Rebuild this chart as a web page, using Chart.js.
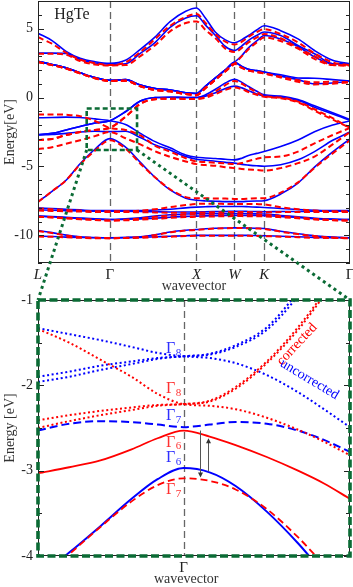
<!DOCTYPE html>
<html>
<head>
<meta charset="utf-8">
<script src="https://cdn.jsdelivr.net/npm/chart.js@4.4.1/dist/chart.umd.min.js"></script>
<style>
  html, body { margin: 0; padding: 0; background: #fff; }
  #wrap { position: relative; width: 353px; height: 587px; }
  canvas { position: absolute; left: 0; }
</style>
</head>
<body>
<div id="wrap">
  <canvas id="top" width="353" height="295" style="top:0"></canvas>
  <canvas id="zoom" width="353" height="302" style="top:285px"></canvas>
  <canvas id="links" width="353" height="587" style="top:0;pointer-events:none"></canvas>
</div>
<script>
// k path L-G-X-W-K-G (units of 2pi/a)
const kPath = [0, 0.17, 0.34, 0.51, 0.69, 0.87, 1.06, 1.24, 1.42, 1.60, 1.79, 1.92, 2.03, 2.15, 2.27, 2.38, 2.47, 2.55, 2.65, 2.74, 2.94, 3.15, 3.35, 3.57, 3.78];
const kTicks = [0, 0.87, 1.92, 2.38, 2.74, 3.78];
const kLabels = ['L', 'Γ', 'X', 'W', 'K', 'Γ'];

// uncorrected bands (blue, solid)
const blueU1 = [4.66, 4.13, 3.35, 2.85, 2.6, 2.48, 2.7, 3.5, 4.4, 5.5, 6.25, 6.49, 5.75, 4.73, 4.18, 3.96, 4.2, 4.5, 4.9, 5.21, 4.85, 4.25, 3.41, 2.7, 2.45];
const blueU2 = [3.22, 3.22, 3.2, 2.75, 2.5, 2.42, 2.45, 3.2, 4.0, 5.09, 5.77, 5.93, 5.25, 4.5, 3.7, 3.41, 3.75, 4.15, 4.5, 4.75, 4.49, 3.77, 3.17, 2.45, 2.45];
const blueU3 = [2.62, 2.4, 2.15, 1.8, 1.45, 1.25, 1.3, 0.9, 0.65, 0.55, 0.35, 0.29, 0.83, 1.42, 2.0, 2.55, 3.05, 3.6, 4.1, 4.5, 4.25, 3.7, 2.95, 2.45, 2.45];
const blueC1 = [2.62, 2.4, 2.15, 1.8, 1.45, 1.25, 1.3, 0.9, 0.65, 0.55, 0.35, 0.29, 0.83, 1.42, 2.0, 2.55, 2.25, 2.05, 1.95, 1.85, 1.65, 1.42, 1.4, 1.3, 1.2];
const blueC2 = [2.62, 2.4, 2.15, 1.8, 1.45, 1.25, 1.3, 0.9, 0.65, 0.55, 0.35, 0.29, 0.83, 1.42, 2.0, 2.55, 2.25, 2.05, 1.95, 1.85, 1.55, 1.3, 1.0, 1.05, 1.2];
const blueCA = [-2.7, -2.6, -2.35, -2.1, -1.85, -1.68, -1.03, -0.25, 0.0, 0.02, 0.0, 0.0, 0.2, 0.6, 1.05, 1.33, 1.1, 0.8, 0.45, 0.2, 0.1, -0.15, -0.6, -1.1, -1.6];
const blueCB = [-2.7, -2.6, -2.35, -2.1, -1.85, -1.68, -1.03, -0.25, 0.0, 0.02, 0.0, 0.0, 0.1, 0.35, 0.65, 0.83, 0.7, 0.5, 0.25, 0.12, 0.05, -0.2, -0.7, -1.2, -1.65];
const blueHH = [-1.47, -1.45, -1.42, -1.45, -1.55, -1.68, -1.95, -2.6, -3.2, -3.65, -4.16, -4.33, -4.38, -4.42, -4.48, -4.52, -4.4, -4.2, -4.05, -3.92, -3.56, -3.08, -2.48, -2.0, -1.7];
const blueSO = [-2.7, -2.68, -2.6, -2.5, -2.45, -2.47, -2.45, -2.9, -3.44, -3.8, -4.28, -4.47, -4.55, -4.62, -4.7, -4.76, -4.85, -4.9, -4.95, -4.98, -4.88, -4.52, -3.92, -3.1, -2.5];
const blueS = [-7.57, -6.8, -6.0, -4.8, -3.75, -2.98, -3.6, -4.7, -5.8, -6.7, -7.3, -7.45, -7.5, -7.52, -7.55, -7.55, -7.55, -7.52, -7.5, -7.48, -7.0, -6.2, -5.05, -3.95, -3.0];
const blueD1 = [-8.0, -8.05, -8.1, -8.15, -8.2, -8.2, -8.2, -8.2, -8.15, -8.1, -8.0, -7.95, -7.92, -7.9, -7.9, -7.9, -7.9, -7.92, -7.95, -7.97, -8.05, -8.12, -8.17, -8.2, -8.2];
const blueD2 = [-8.15, -8.18, -8.2, -8.22, -8.25, -8.25, -8.25, -8.27, -8.28, -8.3, -8.3, -8.3, -8.28, -8.27, -8.26, -8.25, -8.25, -8.26, -8.27, -8.28, -8.27, -8.26, -8.25, -8.25, -8.25];
const blueD3 = [-8.6, -8.65, -8.72, -8.78, -8.82, -8.85, -8.83, -8.8, -8.75, -8.68, -8.62, -8.6, -8.58, -8.57, -8.56, -8.55, -8.55, -8.56, -8.56, -8.57, -8.62, -8.7, -8.78, -8.83, -8.85];
const blueD4 = [-8.6, -8.63, -8.68, -8.74, -8.8, -8.85, -8.8, -8.72, -8.6, -8.5, -8.45, -8.43, -8.42, -8.42, -8.42, -8.42, -8.42, -8.43, -8.44, -8.45, -8.55, -8.65, -8.75, -8.82, -8.85];
const blueS1 = [-9.65, -9.8, -9.98, -10.1, -10.15, -10.17, -10.15, -10.1, -9.95, -9.75, -9.62, -9.57, -9.52, -9.48, -9.46, -9.45, -9.45, -9.46, -9.48, -9.5, -9.7, -9.88, -10.02, -10.12, -10.17];
const blueS2 = [-10.05, -10.08, -10.12, -10.15, -10.17, -10.17, -10.16, -10.14, -10.1, -10.06, -10.02, -10.0, -10.0, -10.0, -10.0, -10.0, -10.0, -10.0, -10.01, -10.02, -10.06, -10.1, -10.14, -10.16, -10.17];

// corrected bands (red, dashed)
const redU1 = [4.37, 3.9, 3.25, 2.75, 2.5, 2.35, 2.55, 3.3, 4.25, 5.2, 5.85, 6.05, 5.4, 4.6, 4.05, 3.85, 4.05, 4.4, 4.75, 4.95, 4.6, 4.0, 3.2, 2.55, 2.35];
const redU2 = [3.17, 3.17, 3.1, 2.65, 2.4, 2.33, 2.35, 3.0, 3.8, 4.8, 5.4, 5.52, 4.9, 4.3, 3.55, 3.3, 3.6, 4.0, 4.35, 4.6, 4.3, 3.6, 3.0, 2.35, 2.33];
const redU3 = [2.57, 2.35, 2.1, 1.75, 1.4, 1.2, 1.22, 0.82, 0.55, 0.45, 0.25, 0.17, 0.7, 1.3, 1.9, 2.45, 3.0, 3.5, 4.0, 4.35, 4.1, 3.55, 2.8, 2.35, 2.33];
const redC1 = [2.57, 2.35, 2.1, 1.75, 1.4, 1.2, 1.22, 0.82, 0.55, 0.45, 0.25, 0.17, 0.7, 1.3, 1.9, 2.45, 2.15, 1.95, 1.85, 1.75, 1.5, 1.25, 1.1, 1.15, 1.1];
const redC2 = [2.57, 2.35, 2.1, 1.75, 1.4, 1.2, 1.22, 0.82, 0.55, 0.45, 0.25, 0.17, 0.7, 1.3, 1.9, 2.45, 2.15, 1.95, 1.85, 1.75, 1.45, 1.15, 0.95, 1.0, 1.1];
const redCA = [-3.08, -3.0, -2.72, -2.5, -2.35, -2.2, -1.4, -0.45, -0.12, -0.08, -0.1, -0.1, 0.05, 0.45, 0.9, 1.2, 1.0, 0.7, 0.4, 0.1, 0.0, -0.3, -0.85, -1.5, -2.2];
const redCB = [-3.08, -3.0, -2.72, -2.5, -2.35, -2.2, -1.4, -0.45, -0.12, -0.08, -0.1, -0.1, -0.02, 0.25, 0.55, 0.72, 0.6, 0.4, 0.2, 0.05, -0.05, -0.35, -0.95, -1.6, -2.2];
const redHH = [-1.23, -1.23, -1.25, -1.35, -1.7, -2.2, -2.35, -2.75, -3.5, -3.92, -4.4, -4.64, -4.68, -4.73, -4.78, -4.83, -4.75, -4.6, -4.45, -4.33, -4.28, -3.92, -3.32, -2.72, -2.2];
const redSO = [-3.75, -3.6, -3.35, -3.1, -2.8, -2.5, -2.95, -3.4, -3.9, -4.3, -4.64, -4.83, -4.9, -4.95, -5.05, -5.12, -5.18, -5.22, -5.26, -5.3, -5.12, -4.76, -4.28, -3.4, -2.5];
const redS = [-7.57, -6.8, -6.0, -4.85, -3.85, -3.1, -3.7, -4.8, -5.8, -6.65, -7.22, -7.3, -7.3, -7.32, -7.33, -7.35, -7.35, -7.33, -7.3, -7.3, -6.9, -6.15, -5.1, -4.05, -3.1];
const redD1 = [-8.05, -8.1, -8.15, -8.2, -8.25, -8.25, -8.25, -8.2, -8.1, -7.95, -7.8, -7.72, -7.7, -7.7, -7.72, -7.73, -7.72, -7.72, -7.73, -7.75, -7.95, -8.1, -8.2, -8.25, -8.25];
const redD2 = [-8.2, -8.22, -8.25, -8.27, -8.3, -8.3, -8.3, -8.32, -8.33, -8.35, -8.35, -8.35, -8.33, -8.32, -8.31, -8.3, -8.3, -8.31, -8.32, -8.32, -8.31, -8.3, -8.3, -8.3, -8.3];
const redD3 = [-8.65, -8.7, -8.77, -8.83, -8.88, -8.92, -8.9, -8.86, -8.8, -8.73, -8.67, -8.65, -8.63, -8.62, -8.61, -8.6, -8.6, -8.61, -8.61, -8.62, -8.68, -8.76, -8.84, -8.9, -8.92];
const redD4 = [-8.65, -8.68, -8.73, -8.8, -8.86, -8.92, -8.86, -8.77, -8.65, -8.55, -8.5, -8.48, -8.47, -8.47, -8.47, -8.47, -8.47, -8.48, -8.49, -8.5, -8.6, -8.7, -8.8, -8.88, -8.92];
const redS1 = [-9.68, -9.83, -10.0, -10.12, -10.17, -10.2, -10.18, -10.12, -9.97, -9.78, -9.65, -9.6, -9.55, -9.5, -9.48, -9.47, -9.47, -9.48, -9.5, -9.53, -9.73, -9.9, -10.05, -10.15, -10.2];
const redS2 = [-10.08, -10.1, -10.14, -10.17, -10.2, -10.2, -10.19, -10.17, -10.13, -10.09, -10.05, -10.03, -10.03, -10.03, -10.03, -10.03, -10.03, -10.03, -10.04, -10.05, -10.09, -10.13, -10.17, -10.19, -10.2];

// zoom around Gamma (k measured from Gamma, negative = towards L)
const dk = [-0.28, -0.22, -0.16, -0.10, -0.05, 0, 0.05, 0.10, 0.16, 0.22, 0.27, 0.32];
const zBlueHH = [-1.33, -1.4, -1.47, -1.55, -1.62, -1.66, -1.68, -1.74, -1.88, -2.08, -2.28, -2.49];
const zBlueLH1 = [-1.90, -1.84, -1.77, -1.72, -1.68, -1.66, -1.63, -1.53, -1.32, -0.9, -0.45, -0.05];
const zBlueLH2 = [-1.96, -1.9, -1.82, -1.75, -1.69, -1.66, -1.64, -1.55, -1.35, -0.95, -0.5, -0.1];
const zBlueSO = [-2.53, -2.45, -2.42, -2.43, -2.46, -2.49, -2.46, -2.43, -2.45, -2.53, -2.64, -2.78];
const zBlueS6 = [-4.25, -3.96, -3.65, -3.33, -3.1, -2.97, -3.02, -3.18, -3.48, -3.85, -4.2, -4.5];
const zRedHH = [-1.34, -1.5, -1.7, -1.9, -2.1, -2.22, -2.24, -2.28, -2.38, -2.52, -2.66, -2.82];
const zRedLH1 = [-2.41, -2.35, -2.3, -2.26, -2.23, -2.22, -2.18, -2.02, -1.72, -1.32, -0.92, -0.5];
const zRedLH2 = [-2.5, -2.42, -2.35, -2.29, -2.24, -2.22, -2.19, -2.04, -1.74, -1.35, -0.95, -0.55];
const zRedS6 = [-3.03, -2.96, -2.88, -2.75, -2.62, -2.53, -2.6, -2.7, -2.84, -3.0, -3.15, -3.33];
const zRedS7 = [-4.3, -3.98, -3.66, -3.36, -3.17, -3.09, -3.12, -3.22, -3.45, -3.78, -4.1, -4.4];

// annotations
const zoomBox = [0.59, 1.20, -3.8, -0.8];            // k0, k1, e0, e1 in the top panel
const gammaTags = [['8', 'b', -1.57], ['8', 'r', -2.04], ['7', 'b', -2.36], ['6', 'r', -2.67], ['6', 'b', -2.85], ['7', 'r', -3.23]];
const gapArrows = [[0.031, -2.53, -3.08], [0.046, -3.01, -2.62]];

const serif = '"Liberation Serif", "DejaVu Serif", serif';
const BLUE = '#0000ff', RED = '#ff0000', GREEN = '#0b6b35', INK = '#222';
Chart.defaults.font.family = serif;

function bandSet(xs, ys, color, width, dash) {
  return {
    data: ys.map((e, i) => ({x: xs[i], y: e})),
    borderColor: color, borderWidth: width, borderDash: dash,
    pointRadius: 0, fill: false, cubicInterpolationMode: 'monotone'
  };
}

function seg(ctx, x0, y0, x1, y1) {
  ctx.beginPath(); ctx.moveTo(x0, y0); ctx.lineTo(x1, y1); ctx.stroke();
}

function frameAndTicks(chart, isMajor) {
  const {ctx, chartArea: a, scales: {y}} = chart;
  ctx.save();
  ctx.strokeStyle = INK; ctx.lineWidth = 1;
  y.ticks.forEach(t => {
    const py = Math.round(y.getPixelForValue(t.value)) + 0.5;
    const len = isMajor(t.value) ? 6 : 4;
    seg(ctx, a.left, py, a.left + len, py);
    seg(ctx, a.right, py, a.right - len, py);
  });
  ctx.strokeRect(Math.round(a.left) + 0.5, Math.round(a.top) + 0.5, Math.round(a.width) - 1, Math.round(a.height) - 1);
  ctx.restore();
}

function symLines(chart, values) {
  const {ctx, chartArea: a, scales: {x}} = chart;
  ctx.save();
  ctx.strokeStyle = '#666'; ctx.lineWidth = 1.3; ctx.setLineDash([7, 4]);
  values.forEach(v => {
    const px = Math.round(x.getPixelForValue(v)) + 0.5;
    seg(ctx, px, a.top, px, a.bottom);
  });
  ctx.restore();
}

const topDecor = {
  id: 'topDecor',
  beforeDatasetsDraw(chart) { symLines(chart, kTicks.slice(1, -1)); },
  afterDatasetsDraw(chart) {
    const {ctx, scales: {x, y}} = chart;
    frameAndTicks(chart, v => v % 5 === 0);
    ctx.save();
    ctx.fillStyle = INK; ctx.font = '16px ' + serif;
    ctx.textAlign = 'center'; ctx.textBaseline = 'middle';
    ctx.fillText('HgTe', x.getPixelForValue(0.41), y.getPixelForValue(5.97));
    const x0 = x.getPixelForValue(zoomBox[0]), x1 = x.getPixelForValue(zoomBox[1]);
    const y0 = y.getPixelForValue(zoomBox[3]), y1 = y.getPixelForValue(zoomBox[2]);
    ctx.strokeStyle = GREEN; ctx.lineWidth = 2.6; ctx.setLineDash([5, 3]);
    ctx.strokeRect(x0, y0, x1 - x0, y1 - y0);
    ctx.restore();
  }
};

const zoomDecor = {
  id: 'zoomDecor',
  beforeDatasetsDraw(chart) { symLines(chart, [0]); },
  afterDatasetsDraw(chart) {
    const {ctx, chartArea: a, scales: {x, y}} = chart;
    frameAndTicks(chart, v => Number.isInteger(v));
    ctx.save();
    // Gamma point labels
    gammaTags.forEach(([sub, c, e]) => {
      const px = x.getPixelForValue(-0.016), py = y.getPixelForValue(e);
      ctx.fillStyle = c === 'b' ? '#3030ff' : '#ff3030';
      ctx.font = '16px ' + serif; ctx.textAlign = 'right'; ctx.textBaseline = 'middle';
      ctx.fillText('Γ', px, py);
      ctx.font = '11px ' + serif; ctx.textAlign = 'left';
      ctx.fillText(sub, px + 0.5, py + 4);
    });
    // rotated curve labels
    const rotLabel = (txt, k, e, deg, color) => {
      ctx.save();
      ctx.translate(x.getPixelForValue(k), y.getPixelForValue(e));
      ctx.rotate(deg * Math.PI / 180);
      ctx.fillStyle = color; ctx.font = '14px ' + serif;
      ctx.textAlign = 'center'; ctx.textBaseline = 'middle';
      ctx.fillText(txt, 0, 0);
      ctx.restore();
    };
    rotLabel('corrected', 0.218, -1.52, -47, RED);
    rotLabel('uncorrected', 0.242, -1.93, 31, BLUE);
    // gap arrows
    ctx.strokeStyle = '#555'; ctx.fillStyle = '#333'; ctx.lineWidth = 1;
    gapArrows.forEach(([k, e0, e1]) => {
      const px = Math.round(x.getPixelForValue(k)) + 0.5;
      const p0 = y.getPixelForValue(e0), p1 = y.getPixelForValue(e1);
      const dir = Math.sign(p1 - p0);
      seg(ctx, px, p0, px, p1 - dir * 4);
      ctx.beginPath();
      ctx.moveTo(px, p1); ctx.lineTo(px - 2.5, p1 - dir * 5); ctx.lineTo(px + 2.5, p1 - dir * 5);
      ctx.closePath(); ctx.fill();
    });
    // green dashed frame
    ctx.strokeStyle = GREEN; ctx.lineWidth = 3.6; ctx.setLineDash([8, 3.5]);
    ctx.strokeRect(a.left, a.top, a.width, a.height);
    // axis title, centred under Gamma
    ctx.setLineDash([]);
    ctx.fillStyle = '#333'; ctx.font = '14px ' + serif;
    ctx.textAlign = 'center'; ctx.textBaseline = 'middle';
    ctx.fillText('wavevector', x.getPixelForValue(0.005), chart.height - 8);
    ctx.restore();
  }
};

function yScale(min, max, step, title, isMajor) {
  return {
    min: min, max: max,
    afterFit: s => { s.width = 38; s.paddingTop = 0; s.paddingBottom = 0; },
    grid: {display: false, drawTicks: false}, border: {display: false},
    ticks: {stepSize: step, autoSkip: false, padding: 5, color: INK, font: {size: 14},
            callback: v => isMajor(v) ? String(v) : ''},
    title: {display: true, text: title, color: '#333', font: {size: 14}, padding: {top: 2, bottom: 0}}
  };
}

function xScale(min, max, ticks, labels, height, showTitle) {
  return {
    type: 'linear', min: min, max: max,
    afterBuildTicks: s => { s.ticks = ticks.map(v => ({value: v})); },
    afterFit: s => { s.height = height; s.paddingLeft = 0; s.paddingRight = 0; },
    grid: {display: false, drawTicks: false}, border: {display: false},
    ticks: {autoSkip: false, maxRotation: 0, padding: 3, color: INK,
            callback: (v, i) => labels[i],
            font: c => ({size: 15, style: labels[c.index] === 'Γ' ? 'normal' : 'italic'})},
    title: {display: showTitle, text: 'wavevector', color: '#333', font: {size: 14}, padding: {top: 0, bottom: 0}}
  };
}

const blueBands = [blueU1, blueU2, blueU3, blueC1, blueC2, blueCA, blueCB, blueHH, blueSO, blueS, blueD1, blueD2, blueD3, blueD4, blueS1, blueS2];
const redBands = [redU1, redU2, redU3, redC1, redC2, redCA, redCB, redHH, redSO, redS, redD1, redD2, redD3, redD4, redS1, redS2];

const baseOpts = {
  responsive: false, animation: false, events: [],
  plugins: {legend: {display: false}, tooltip: {enabled: false}}
};

const topChart = new Chart(document.getElementById('top'), {
  type: 'line',
  data: {datasets: [
    ...redBands.map(b => bandSet(kPath, b, RED, 2, [6, 3.5])),
    ...blueBands.map(b => bandSet(kPath, b, BLUE, 1.6, []))
  ]},
  options: Object.assign({}, baseOpts, {
    layout: {padding: {top: 1, right: 3, left: 0, bottom: 0}},
    scales: {
      x: xScale(0, 3.78, kTicks, kLabels, 32, true),
      y: yScale(-12, 7, 1, 'Energy[eV]', v => v % 5 === 0)
    }
  }),
  plugins: [topDecor]
});

const zoomChart = new Chart(document.getElementById('zoom'), {
  type: 'line',
  data: {datasets: [
    bandSet(dk, zRedHH, RED, 2, [2, 2.6]),
    bandSet(dk, zRedLH1, RED, 2, [2, 2.6]),
    bandSet(dk, zRedLH2, RED, 2, [2, 2.6]),
    bandSet(dk, zRedS6, RED, 1.8, []),
    bandSet(dk, zRedS7, RED, 1.8, [7, 4]),
    bandSet(dk, zBlueHH, BLUE, 2, [2, 2.6]),
    bandSet(dk, zBlueLH1, BLUE, 2, [2, 2.6]),
    bandSet(dk, zBlueLH2, BLUE, 2, [2, 2.6]),
    bandSet(dk, zBlueSO, BLUE, 2, [8, 4]),
    bandSet(dk, zBlueS6, BLUE, 2, [])
  ]},
  options: Object.assign({}, baseOpts, {
    layout: {padding: {top: 15, right: 3, left: 0, bottom: 0}},
    scales: {
      x: xScale(-0.28, 0.32, [0], ['Γ'], 31, false),
      y: yScale(-4, -1, 0.5, 'Energy [eV]', v => Number.isInteger(v))
    }
  }),
  plugins: [zoomDecor]
});

// dotted connectors from the small box to the zoomed panel
(function drawLinks() {
  const ctx = document.getElementById('links').getContext('2d');
  const xs = topChart.scales.x, ys = topChart.scales.y;
  const a = zoomChart.chartArea, off = 285;
  const yb = ys.getPixelForValue(zoomBox[2]);
  ctx.strokeStyle = GREEN; ctx.lineWidth = 3; ctx.setLineDash([3, 3.5]);
  seg(ctx, xs.getPixelForValue(zoomBox[0]), yb, a.left, a.top + off);
  seg(ctx, xs.getPixelForValue(zoomBox[1]), yb, a.right, a.top + off);
})();
</script>
</body>
</html>
